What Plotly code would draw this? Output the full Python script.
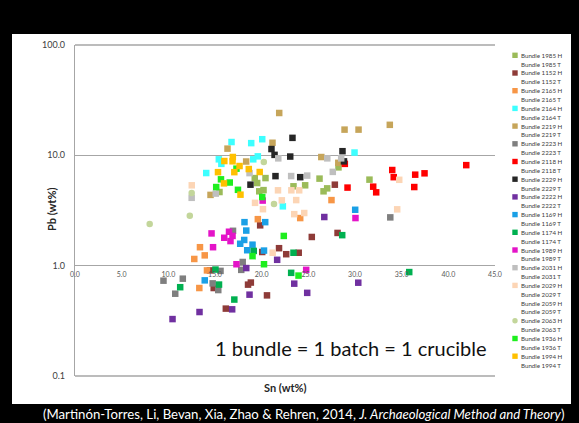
import plotly.graph_objects as go

# ---------------- data (Sn wt%, Pb wt%) ----------------
sn_1985H = [19.26, 20.41, 19.52, 20.20, 19.74, 15.48, 23.41, 24.66, 26.20, 27.02, 26.63, 31.55, 28.23]
pb_1985H = [6.22, 6.22, 5.61, 4.84, 4.72, 4.65, 5.24, 5.35, 6.15, 5.02, 4.72, 6.02, 7.78]

sn_1152H = [27.84, 28.13, 25.37, 19.84, 21.86, 22.63, 23.97, 20.06, 18.84, 18.54, 20.57, 14.46, 14.86, 16.16]
pb_1152H = [5.42, 1.98, 1.82, 2.32, 1.44, 1.27, 1.31, 1.33, 0.703, 0.673, 0.538, 0.906, 0.627, 0.408]

sn_2165H = [27.48, 19.59, 24.13, 13.39, 13.90, 12.78, 14.14, 13.32]
pb_2165H = [3.93, 2.64, 2.70, 1.47, 1.24, 1.15, 0.906, 0.627]

sn_2164H = [16.77, 18.88, 20.06, 19.10, 19.59, 15.68, 15.41, 14.06, 29.95, 22.27]
pb_2164H = [13.2, 12.9, 14.0, 9.20, 9.79, 8.37, 9.20, 6.91, 10.6, 3.45]

sn_2219H = [21.88, 28.88, 30.38, 33.73, 21.16, 16.34, 18.34, 26.39, 28.21, 14.52]
pb_2219H = [24.2, 17.1, 17.1, 18.9, 13.0, 11.5, 8.79, 9.65, 8.55, 4.38]

sn_2223H = [33.78, 15.59, 11.55, 9.48, 10.74, 14.75, 15.35, 16.93, 17.97, 17.81]
pb_2223H = [2.74, 0.897, 0.762, 0.731, 0.557, 0.691, 0.601, 2.07, 1.08, 0.916]

sn_2118H = [28.91, 29.20, 33.99, 34.15, 31.95, 32.27, 36.45, 37.45, 36.35, 41.92]
pb_2118H = [8.37, 5.10, 7.36, 6.34, 5.20, 4.62, 6.68, 6.87, 5.16, 8.15]

sn_2229H = [23.30, 21.05, 21.38, 23.06, 28.66, 28.82, 21.48, 24.13, 18.80]
pb_2229H = [14.4, 11.4, 10.1, 9.75, 10.9, 8.82, 6.48, 6.34, 5.42]

sn_2222H = [26.71, 30.35, 21.66, 18.35, 23.49, 18.70, 24.88, 16.84, 13.34, 10.45]
pb_2222H = [2.76, 0.701, 1.13, 0.951, 0.687, 0.546, 0.567, 0.402, 0.380, 0.328]

sn_1169H = [30.02, 18.16, 20.38, 18.35, 18.13, 17.70, 19.02, 18.45, 20.25, 13.90]
pb_1169H = [3.21, 2.48, 2.48, 2.08, 1.71, 1.58, 1.55, 1.38, 1.37, 0.736]

sn_1174H = [28.63, 35.81, 19.15, 23.41, 23.16, 17.07, 15.05, 15.43, 11.27]
pb_1174H = [1.89, 0.875, 1.36, 1.31, 0.861, 0.493, 0.922, 0.674, 0.638]

sn_1989H = [30.05, 20.11, 14.63, 14.79, 15.99, 16.50, 16.66, 16.88, 17.30, 24.77]
pb_1989H = [2.70, 3.89, 1.96, 1.47, 1.79, 2.03, 1.67, 1.86, 1.03, 0.916]

sn_2031H = [21.78, 27.03, 28.52, 27.62, 23.16, 24.88, 18.70, 12.50, 15.08]
pb_2031H = [9.39, 9.39, 9.39, 7.08, 6.49, 6.55, 6.90, 4.12, 4.50]

sn_2029H = [21.75, 23.18, 24.02, 19.29, 22.16, 23.70, 20.14, 23.49, 24.56, 34.74, 34.52, 12.51, 21.18]
pb_2029H = [4.82, 4.82, 4.82, 3.71, 3.91, 3.93, 3.25, 2.93, 3.00, 6.00, 3.24, 5.35, 1.31]

sn_2063H = [20.23, 21.32, 12.50, 12.30, 8.00]
pb_2063H = [8.70, 3.63, 4.55, 2.83, 2.39]

sn_1936H = [17.30, 16.58, 17.46, 20.06, 15.64, 15.13, 22.37, 19.02, 20.25, 23.95]
pb_1936H = [7.57, 5.67, 4.87, 4.19, 6.06, 5.16, 1.86, 1.22, 1.03, 0.813]

sn_1994H = [16.91, 16.88, 16.00, 17.63, 18.62, 17.07, 19.79, 15.32, 15.96, 17.73]
pb_1994H = [9.66, 8.83, 8.88, 8.00, 7.51, 7.04, 7.06, 7.04, 5.57, 4.40]

legend_labels = [
    "Bundle 1985 H", "Bundle 1985 T", "Bundle 1152 H", "Bundle 1152 T",
    "Bundle 2165 H", "Bundle 2165 T", "Bundle 2164 H", "Bundle 2164 T",
    "Bundle 2219 H", "Bundle 2219 T", "Bundle 2223 H", "Bundle 2223 T",
    "Bundle 2118 H", "Bundle 2118 T", "Bundle 2229 H", "Bundle 2229 T",
    "Bundle 2222 H", "Bundle 2222 T", "Bundle 1169 H", "Bundle 1169 T",
    "Bundle 1174 H", "Bundle 1174 T", "Bundle 1989 H", "Bundle 1989 T",
    "Bundle 2031 H", "Bundle 2031 T", "Bundle 2029 H", "Bundle 2029 T",
    "Bundle 2059 H", "Bundle 2059 T", "Bundle 2063 H", "Bundle 2063 T",
    "Bundle 1936 H", "Bundle 1936 T", "Bundle 1994 H", "Bundle 1994 T",
]

x_tick_vals = [0, 5, 10, 15, 20, 25, 30, 35, 40, 45]
x_tick_text = ["0.0", "5.0", "10.0", "15.0", "20.0", "25.0", "30.0", "35.0", "40.0", "45.0"]
y_tick_vals = [0.1, 1, 10, 100]
y_tick_text = ["0.1", "1.0", "10.0", "100.0"]

# legend label -> (colour, symbol, Sn values, Pb values)
series = {
    "Bundle 1985 H": ("#9BBB59", "square", sn_1985H, pb_1985H),
    "Bundle 1152 H": ("#8E3B38", "square", sn_1152H, pb_1152H),
    "Bundle 2165 H": ("#F79646", "square", sn_2165H, pb_2165H),
    "Bundle 2164 H": ("#3DFFFF", "square", sn_2164H, pb_2164H),
    "Bundle 2219 H": ("#C6A55A", "square", sn_2219H, pb_2219H),
    "Bundle 2223 H": ("#7F7F7F", "square", sn_2223H, pb_2223H),
    "Bundle 2118 H": ("#FF0000", "square", sn_2118H, pb_2118H),
    "Bundle 2229 H": ("#262626", "square", sn_2229H, pb_2229H),
    "Bundle 2222 H": ("#7030A0", "square", sn_2222H, pb_2222H),
    "Bundle 1169 H": ("#1AA0E6", "square", sn_1169H, pb_1169H),
    "Bundle 1174 H": ("#00B050", "square", sn_1174H, pb_1174H),
    "Bundle 1989 H": ("#E414C8", "square", sn_1989H, pb_1989H),
    "Bundle 2031 H": ("#BFBFBF", "square", sn_2031H, pb_2031H),
    "Bundle 2029 H": ("#FCD5B5", "square", sn_2029H, pb_2029H),
    "Bundle 2063 H": ("#C3D69B", "circle", sn_2063H, pb_2063H),
    "Bundle 1936 H": ("#1EEE1E", "square", sn_1936H, pb_1936H),
    "Bundle 1994 H": ("#FFC000", "square", sn_1994H, pb_1994H),
}

# ---------------- layout helpers ----------------
W, H = 579, 423
L, R, T, B = 75, 84, 45, 47
PW, PH = W - L - R, H - T - B


def fx(p):
    return (p - L) / PW


def fy(p):
    return (H - B - p) / PH


FONT = "Lato, 'Open Sans', sans-serif"

fig = go.Figure()
for name, (col, sym, xs, ys) in series.items():
    fig.add_trace(go.Scatter(
        x=xs, y=ys, mode="markers", name=name, showlegend=False,
        marker=dict(symbol=sym, size=6.5, color=col, line=dict(width=0)),
        hoverinfo="x+y+name",
    ))

shapes = [
    # white slide panel
    dict(type="rect", xref="paper", yref="paper", x0=fx(12), x1=fx(571), y0=fy(404), y1=fy(34),
         fillcolor="white", line=dict(width=0), layer="below"),
    # top and bottom frame lines
    dict(type="line", xref="x domain", yref="y domain", x0=0, x1=1, y0=1, y1=1,
         line=dict(color="#A6A6A6", width=1.3)),
    dict(type="line", xref="x domain", yref="y domain", x0=0, x1=1, y0=0, y1=0,
         line=dict(color="#A6A6A6", width=1.3)),
]

annotations = []
row0, step = 55.3, 8.85
for i, lab in enumerate(legend_labels):
    yc = row0 + i * step
    annotations.append(dict(
        x=fx(519.5), y=fy(yc), xref="paper", yref="paper", text=lab, showarrow=False,
        xanchor="left", yanchor="middle", borderpad=0,
        font=dict(family=FONT, size=6.2, color="#404040"),
    ))
    if lab in series:
        col, sym, _, _ = series[lab]
        shapes.append(dict(type="circle" if sym == "circle" else "rect",
                           xref="paper", yref="paper",
                           x0=fx(512.3), x1=fx(517.7), y0=fy(yc + 2.7), y1=fy(yc - 2.7),
                           fillcolor=col, line=dict(width=0)))

annotations += [
    dict(x=fx(51), y=fy(210), xref="paper", yref="paper", text="<b>Pb (wt%)</b>", textangle=-90,
         xanchor="center", yanchor="middle",
         showarrow=False, font=dict(family=FONT, size=11, color="#262626")),
    dict(x=fx(285), y=fy(387), xref="paper", yref="paper", text="<b>Sn (wt%)</b>",
         xanchor="center", yanchor="middle",
         showarrow=False, font=dict(family=FONT, size=11, color="#262626")),
    dict(x=fx(350), y=fy(348), xref="paper", yref="paper", text="1 bundle = 1 batch = 1 crucible",
         xanchor="center", yanchor="middle",
         showarrow=False, font=dict(family=FONT, size=20, color="#111111")),
    dict(x=fx(566), y=fy(413.5), xref="paper", yref="paper", xanchor="right", yanchor="middle",
         text="(Martinón-Torres, Li, Bevan, Xia, Zhao &amp; Rehren, 2014, <i>J. Archaeological Method and Theory</i>)",
         showarrow=False, font=dict(family=FONT, size=13.2, color="white")),
]

fig.update_layout(
    width=W, height=H, autosize=False,
    margin=dict(l=L, r=R, t=T, b=B, pad=0),
    paper_bgcolor="black", plot_bgcolor="rgba(0,0,0,0)",
    font=dict(family=FONT),
    showlegend=False,
    shapes=shapes, annotations=annotations,
    xaxis=dict(range=[0, 45], tickvals=x_tick_vals, ticktext=x_tick_text,
               anchor="free", position=1 / 3, showgrid=False, zeroline=False, showline=False,
               ticks="outside", ticklen=2, tickcolor="rgba(0,0,0,0)",
               tickfont=dict(family=FONT, size=7, color="#595959")),
    yaxis=dict(type="log", range=[-1, 2], tickvals=y_tick_vals, ticktext=y_tick_text,
               showgrid=True, gridcolor="#A6A6A6", gridwidth=1.3, zeroline=False,
               showline=True, linecolor="#A6A6A6", linewidth=1.3,
               ticks="outside", ticklen=7, tickcolor="rgba(0,0,0,0)",
               tickfont=dict(family=FONT, size=9, color="#404040")),
)

fig.write_html(
    "out.html",
    config={"displayModeBar": False},
    post_script="document.body.style.margin='0';document.body.style.background='black';",
)
